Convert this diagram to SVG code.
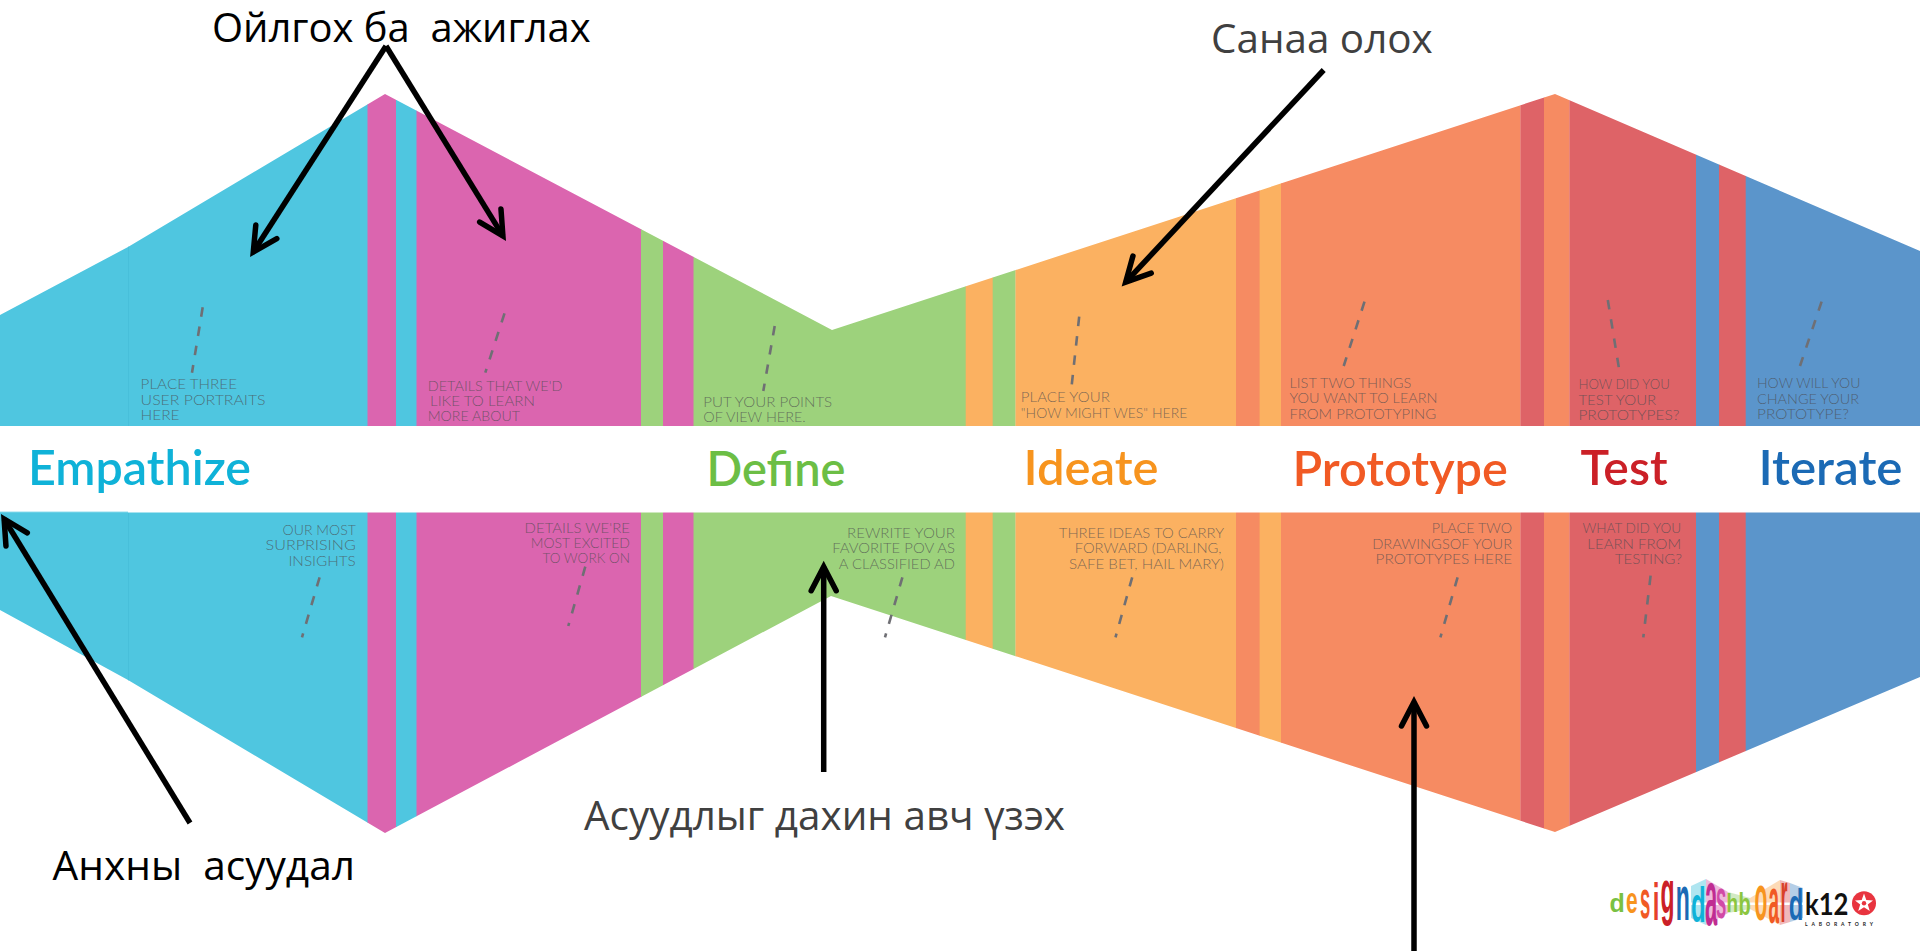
<svg xmlns="http://www.w3.org/2000/svg" width="1920" height="951" viewBox="0 0 1920 951">
<style>
.cy{fill:#4FC6E0}.pk{fill:#DB65AF}.gr{fill:#9DD27C}.or{fill:#FBB161}.sa{fill:#F68B62}.rd{fill:#DE6367}.bl{fill:#5B95CB}
.note{font-family:Lato,"Liberation Sans",sans-serif;font-weight:300;font-size:14px;fill:#4a4a4e;fill-opacity:.72}
.stage{font-family:Lato,"Liberation Sans",sans-serif;font-weight:600;font-size:48px}
.call{font-family:"Open Sans","Noto Sans",sans-serif;font-size:40px;white-space:pre}
.dash{fill:none;stroke:#6f6f74;stroke-width:2.6;stroke-dasharray:9.5 10}
.arrow{fill:none;stroke:#000;stroke-width:5.5;marker-end:url(#head)}
.lg{font-family:"Liberation Sans",sans-serif;font-weight:700;font-size:10px}
</style>
<defs>
<marker id="head" markerUnits="userSpaceOnUse" markerWidth="44" markerHeight="44" refX="34" refY="22" orient="auto" overflow="visible"><path d="M10,9.5 L34,22 L10,34.5" fill="none" stroke="#000" stroke-width="5.5" stroke-linecap="round"/></marker>
<clipPath id="tie"><polygon points="0,315 128,247 385,94 832,330 1555,94 1920,251 1920,677 1555,832 831,596 385,833 128,680 0,610"/></clipPath>
</defs>
<rect width="1920" height="951" fill="#fff"/>
<g id="bands" clip-path="url(#tie)">
<rect class="cy" x="0" y="0" width="368" height="951"/>
<rect class="pk" x="367.5" y="0" width="29" height="951"/>
<rect class="cy" x="396" y="0" width="21" height="951"/>
<rect class="pk" x="416.5" y="0" width="225" height="951"/>
<rect class="gr" x="641" y="0" width="22.5" height="951"/>
<rect class="pk" x="663" y="0" width="31" height="951"/>
<rect class="gr" x="693.5" y="0" width="272.5" height="951"/>
<rect class="or" x="965.7" y="0" width="27.5" height="951"/>
<rect class="gr" x="992.7" y="0" width="23" height="951"/>
<rect class="or" x="1015.5" y="0" width="221" height="951"/>
<rect class="sa" x="1236" y="0" width="24" height="951"/>
<rect class="or" x="1259.6" y="0" width="22" height="951"/>
<rect class="sa" x="1281" y="0" width="239.6" height="951"/>
<rect class="rd" x="1520.4" y="0" width="24" height="951"/>
<rect class="sa" x="1544" y="0" width="25.6" height="951"/>
<rect class="rd" x="1569.4" y="0" width="127" height="951"/>
<rect class="bl" x="1696" y="0" width="23.4" height="951"/>
<rect class="rd" x="1719" y="0" width="27" height="951"/>
<rect class="bl" x="1745.7" y="0" width="174.3" height="951"/>
<rect x="128" y="0" width="1" height="951" fill="#48BFDA"/>
</g>
<rect id="center-band" x="0" y="426" width="1920" height="86.5" fill="#fff"/>
<rect id="left-edge" class="cy" x="0" y="511.7" width="128" height="1"/>

<g id="empathize">
<text class="stage" fill="#0FB2D8" x="28" y="485" textLength="223" lengthAdjust="spacingAndGlyphs">Empathize</text>
<text class="note" x="140.6" y="389.3" textLength="96.4" lengthAdjust="spacingAndGlyphs">PLACE THREE</text>
<text class="note" x="140.6" y="404.7" textLength="125" lengthAdjust="spacingAndGlyphs">USER PORTRAITS</text>
<text class="note" x="140.6" y="420" textLength="39" lengthAdjust="spacingAndGlyphs">HERE</text>
<text class="note" x="282.6" y="534.7" textLength="73.2" lengthAdjust="spacingAndGlyphs">OUR MOST</text>
<text class="note" x="265.6" y="550" textLength="90.2" lengthAdjust="spacingAndGlyphs">SURPRISING</text>
<text class="note" x="288.4" y="565.7" textLength="67.4" lengthAdjust="spacingAndGlyphs">INSIGHTS</text>
<text class="note" x="427.7" y="390.7" textLength="134.8" lengthAdjust="spacingAndGlyphs">DETAILS THAT WE'D</text>
<text class="note" x="430" y="405.7" textLength="105" lengthAdjust="spacingAndGlyphs">LIKE TO LEARN</text>
<text class="note" x="427.7" y="421" textLength="92.3" lengthAdjust="spacingAndGlyphs">MORE ABOUT</text>
<text class="note" x="524.6" y="533" textLength="105.4" lengthAdjust="spacingAndGlyphs">DETAILS WE'RE</text>
<text class="note" x="530.8" y="548.3" textLength="99.2" lengthAdjust="spacingAndGlyphs">MOST EXCITED</text>
<text class="note" x="542.4" y="563.3" textLength="87.6" lengthAdjust="spacingAndGlyphs">TO WORK ON</text>
<path class="dash" d="M202.7,307.3L192,372.7"/>
<path class="dash" d="M504.5,313.3L485.3,372.7"/>
<path class="dash" d="M319.6,577.3L302,637.3"/>
<path class="dash" d="M585.3,566.7L568.3,626"/>
</g>

<g id="define">
<text class="stage" fill="#6CBE45" x="706.5" y="486" textLength="139" lengthAdjust="spacingAndGlyphs">Define</text>
<text class="note" x="703.3" y="406.7" textLength="128.9" lengthAdjust="spacingAndGlyphs">PUT YOUR POINTS</text>
<text class="note" x="703.3" y="422" textLength="102.4" lengthAdjust="spacingAndGlyphs">OF VIEW HERE.</text>
<text class="note" x="847" y="537.7" textLength="108" lengthAdjust="spacingAndGlyphs">REWRITE YOUR</text>
<text class="note" x="832.2" y="553.3" textLength="122.8" lengthAdjust="spacingAndGlyphs">FAVORITE POV AS</text>
<text class="note" x="838.8" y="568.7" textLength="116.2" lengthAdjust="spacingAndGlyphs">A CLASSIFIED AD</text>
<path class="dash" d="M774.7,326L763.3,391"/>
<path class="dash" d="M902.4,577.3L885,637.3"/>
</g>

<g id="ideate">
<text class="stage" fill="#F7941E" x="1023.5" y="485" textLength="135" lengthAdjust="spacingAndGlyphs">Ideate</text>
<text class="note" x="1020.8" y="402.3" textLength="89" lengthAdjust="spacingAndGlyphs">PLACE YOUR</text>
<text class="note" x="1020.8" y="417.7" textLength="166.5" lengthAdjust="spacingAndGlyphs">"HOW MIGHT WES" HERE</text>
<text class="note" x="1058.8" y="537.7" textLength="165.2" lengthAdjust="spacingAndGlyphs">THREE IDEAS TO CARRY</text>
<text class="note" x="1074.7" y="553.3" textLength="146.9" lengthAdjust="spacingAndGlyphs">FORWARD (DARLING,</text>
<text class="note" x="1069" y="568.7" textLength="155" lengthAdjust="spacingAndGlyphs">SAFE BET, HAIL MARY)</text>
<path class="dash" d="M1079.2,316.7L1071.8,384.3"/>
<path class="dash" d="M1132.2,577.3L1115.5,637.3"/>
</g>

<g id="prototype">
<text class="stage" fill="#F15A24" x="1292.5" y="486" textLength="215.5" lengthAdjust="spacingAndGlyphs">Prototype</text>
<text class="note" x="1289.4" y="388" textLength="122" lengthAdjust="spacingAndGlyphs">LIST TWO THINGS</text>
<text class="note" x="1289.4" y="403.3" textLength="148.2" lengthAdjust="spacingAndGlyphs">YOU WANT TO LEARN</text>
<text class="note" x="1289.4" y="419" textLength="146.9" lengthAdjust="spacingAndGlyphs">FROM PROTOTYPING</text>
<text class="note" x="1431.8" y="533.3" textLength="80.4" lengthAdjust="spacingAndGlyphs">PLACE TWO</text>
<text class="note" x="1372.2" y="549" textLength="140" lengthAdjust="spacingAndGlyphs">DRAWINGSOF YOUR</text>
<text class="note" x="1375.5" y="564" textLength="136.7" lengthAdjust="spacingAndGlyphs">PROTOTYPES HERE</text>
<path class="dash" d="M1364.5,301.7L1343.7,366"/>
<path class="dash" d="M1457.6,577.3L1440.4,637.3"/>
</g>

<g id="test">
<text class="stage" fill="#CB2027" x="1580.5" y="485" textLength="87" lengthAdjust="spacingAndGlyphs">Test</text>
<text class="note" x="1578.4" y="389.3" textLength="91.4" lengthAdjust="spacingAndGlyphs">HOW DID YOU</text>
<text class="note" x="1578.4" y="405" textLength="77.9" lengthAdjust="spacingAndGlyphs">TEST YOUR</text>
<text class="note" x="1578.4" y="420" textLength="101.2" lengthAdjust="spacingAndGlyphs">PROTOTYPES?</text>
<text class="note" x="1582.4" y="533.3" textLength="98.8" lengthAdjust="spacingAndGlyphs">WHAT DID YOU</text>
<text class="note" x="1587.3" y="549" textLength="93.9" lengthAdjust="spacingAndGlyphs">LEARN FROM</text>
<text class="note" x="1614.7" y="564" textLength="67.3" lengthAdjust="spacingAndGlyphs">TESTING?</text>
<path class="dash" d="M1607.8,300L1618.8,367.3"/>
<path class="dash" d="M1650.6,575.7L1643.3,637.3"/>
</g>

<g id="iterate">
<text class="stage" fill="#1B6AB5" x="1758.5" y="485" textLength="144" lengthAdjust="spacingAndGlyphs">Iterate</text>
<text class="note" x="1757" y="388.3" textLength="103.4" lengthAdjust="spacingAndGlyphs">HOW WILL YOU</text>
<text class="note" x="1757" y="404" textLength="102" lengthAdjust="spacingAndGlyphs">CHANGE YOUR</text>
<text class="note" x="1757" y="419" textLength="92" lengthAdjust="spacingAndGlyphs">PROTOTYPE?</text>
<path class="dash" d="M1821.6,301.7L1800,366"/>
</g>

<g id="connectors">
<path class="arrow" d="M386,46L253.3,252"/>
<path class="arrow" d="M386,46L502.9,235.9"/>
<path class="arrow" d="M1323.7,70L1125.7,282.1"/>
<path class="arrow" d="M190,823L4.1,519"/>
<path class="arrow" d="M823.7,772L823.7,566.7"/>
<path class="arrow" d="M1414,951L1414,702"/>
</g>

<g id="label-observe"><text class="call" fill="#000" x="212" y="41.7" textLength="378.7" lengthAdjust="spacingAndGlyphs">Ойлгох ба  ажиглах</text></g>
<g id="label-ideas"><text class="call" fill="#404040" x="1211" y="53" textLength="221.7" lengthAdjust="spacingAndGlyphs">Санаа олох</text></g>
<g id="label-reframe"><text class="call" fill="#404040" x="584" y="830" textLength="481" lengthAdjust="spacingAndGlyphs">Асуудлыг дахин авч үзэх</text></g>
<g id="label-initial"><text class="call" fill="#000" x="52.6" y="880" textLength="302.4" lengthAdjust="spacingAndGlyphs">Анхны  асуудал</text></g>

<g id="logo">
<g opacity=".45">
<polygon points="1691,886 1706,879 1706,925 1691,918" fill="#4FC6E0"/>
<polygon points="1706,879 1728,892 1728,913 1706,925" fill="#DB65AF"/>
<polygon points="1728,892 1750,898 1750,909 1728,913" fill="#9DD27C"/>
<polygon points="1750,898 1780,880 1780,925 1750,909" fill="#FBB161"/>
<polygon points="1780,880 1790,883 1790,922 1780,925" fill="#DE6367"/>
<polygon points="1790,883 1803,888 1803,918 1790,922" fill="#5B95CB"/>
<rect x="1691" y="902.5" width="112" height="2.5" fill="#fff"/>
</g>
<g class="lg">
<text transform="matrix(2.5 0 0 2.6 1609.5 911.7)" fill="#7AC143">d</text>
<text transform="matrix(2.1 0 0 3.7 1626 913)" fill="#F7941E">e</text>
<text transform="matrix(1.85 0 0 5.3 1640 918)" fill="#F15A24">s</text>
<text transform="matrix(2.4 0 0 5.1 1652.7 920)" fill="#E6402A">i</text>
<text transform="matrix(2.3 0 0 6.2 1660.5 912.6)" fill="#CB2027">g</text>
<text transform="matrix(2.3 0 0 6.3 1675.8 920)" fill="#1B6AB5">n</text>
<text transform="matrix(2.4 0 0 5 1691 921.7)" fill="#0FB2D8">d</text>
<text transform="matrix(2.2 0 0 7.8 1705 925)" fill="#C02C92">a</text>
<text transform="matrix(1.85 0 0 5.5 1716 918)" fill="#D14AA6">s</text>
<text transform="matrix(1.9 0 0 2.6 1726.5 912)" fill="#8CC63F">h</text>
<text transform="matrix(2 0 0 3.1 1738.5 915)" fill="#8CC63F">b</text>
<text transform="matrix(2.1 0 0 6.5 1754.5 920)" fill="#F7941E">o</text>
<text transform="matrix(1.9 0 0 6.5 1768.5 923)" fill="#F15A24">a</text>
<text transform="matrix(1.8 0 0 7.5 1780.5 921.7)" fill="#D9402A">r</text>
<text transform="matrix(2.4 0 0 4.5 1788.8 920)" fill="#1B6AB5">d</text>
</g>
<text x="1805" y="915" font-family="Lato,'Liberation Sans',sans-serif" font-size="31" font-weight="700" fill="#111" textLength="43.5" lengthAdjust="spacingAndGlyphs">k12</text>
<text x="1805" y="925.7" font-family="Lato,'Liberation Sans',sans-serif" font-size="5" font-weight="700" fill="#222" textLength="68">LABORATORY</text>
<circle cx="1864" cy="903.3" r="12" fill="#E8343F"/>
<polygon points="1864,893.5 1866.3,900 1873,900.4 1867.8,904.6 1869.8,911 1864,907.3 1858.2,911 1860.2,904.6 1855,900.4 1861.7,900" fill="#fff"/>
<circle cx="1864" cy="903.3" r="2.2" fill="#E8343F"/>
</g>
</svg>
